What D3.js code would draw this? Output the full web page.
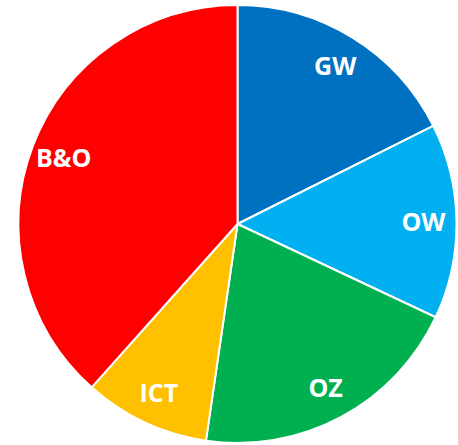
<!DOCTYPE html>
<html>
<head>
<meta charset="utf-8">
<script src="https://cdn.jsdelivr.net/npm/d3@7"></script>
<style>
  html, body { margin: 0; padding: 0; background: #fff; }
  svg { display: block; }
</style>
</head>
<body>
<svg id="svg" width="458" height="445"></svg>
<script>
// slice order is clockwise from 12 o'clock
var labels = ["GW", "OW", "OZ", "ICT", "B&O"];
var values = [17.6, 14.4, 20.3, 9.3, 38.4];
var colors = ["#0070c0", "#00b0f0", "#00b050", "#ffc000", "#ff0000"];

var svg = d3.select("#svg");

var cx = 237.5, cy = 224, R = 219, rLab = 186;

var pie = d3.pie().sort(null).value(function(d) { return d; });
var arcs = pie(values);

var arc = d3.arc().innerRadius(0).outerRadius(R);
var labArc = d3.arc().innerRadius(rLab).outerRadius(rLab);

var g = svg.append("g").attr("transform", "translate(" + cx + "," + cy + ")");

g.selectAll("path").data(arcs).enter()
  .append("path")
  .attr("d", arc)
  .attr("fill", function(d, i) { return colors[i]; })
  .attr("stroke", "#fff")
  .attr("stroke-width", 2)
  .attr("stroke-linejoin", "round");

g.selectAll("text").data(arcs).enter()
  .append("text")
  .attr("transform", function(d) { return "translate(" + labArc.centroid(d) + ")"; })
  .attr("text-anchor", "middle")
  .attr("dy", "0.36em")
  .attr("fill", "#fff")
  .attr("font-family", "'Open Sans', sans-serif")
  .attr("font-weight", 700)
  .attr("font-size", 25)
  .text(function(d, i) { return labels[i]; });
</script>
</body>
</html>
